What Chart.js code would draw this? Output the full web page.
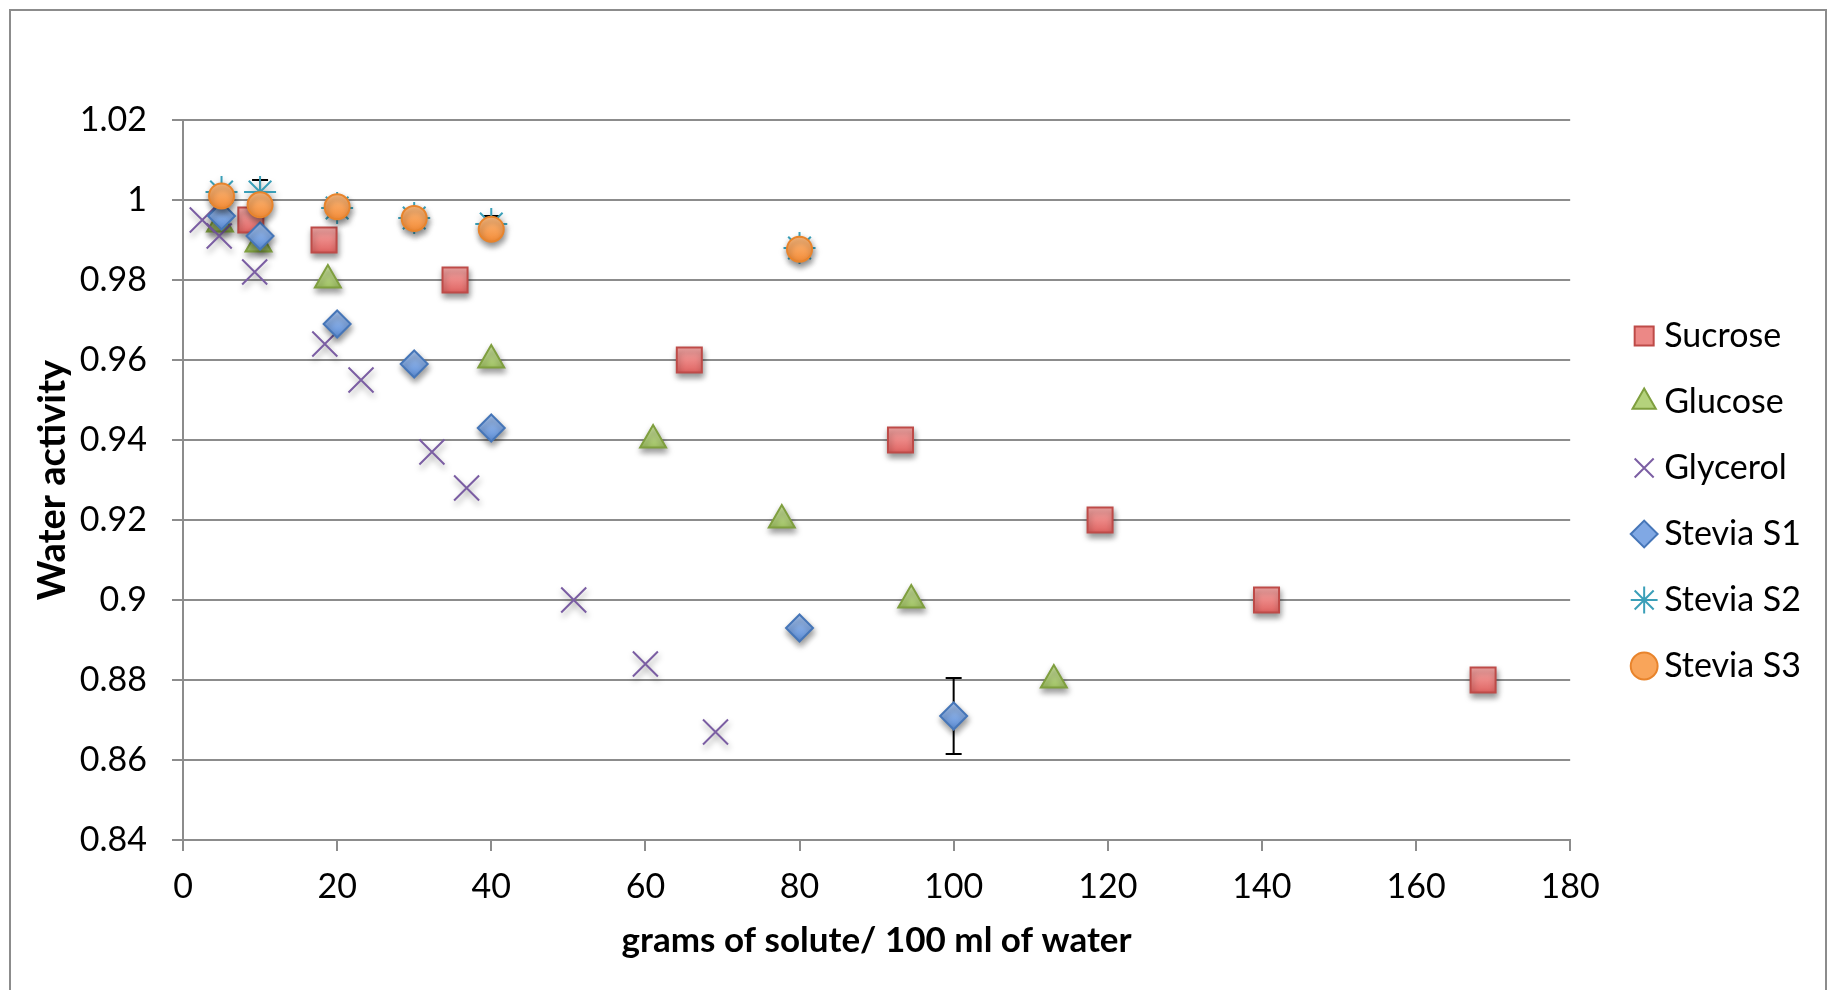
<!DOCTYPE html>
<html>
<head>
<meta charset="utf-8">
<script src="https://cdn.jsdelivr.net/npm/chart.js@4.4.1/dist/chart.umd.min.js"></script>
<style>
html,body{margin:0;padding:0;background:#fff}
#wrap{width:1836px;height:990px;position:relative}
</style>
</head>
<body>
<div id="wrap"><canvas id="waterChart" width="1836" height="990"></canvas></div>
<script>
// values
const sucroseX = [8.8, 18.3, 35.3, 65.7, 93.1, 119.0, 140.6, 168.7]
const sucroseY = [0.995, 0.990, 0.980, 0.960, 0.940, 0.920, 0.900, 0.880]

const glucoseX = [4.8, 9.8, 18.8, 40.0, 61.0, 77.7, 94.5, 113.0]
const glucoseY = [0.994, 0.989, 0.980, 0.960, 0.940, 0.920, 0.900, 0.880]

const glycerolX = [2.5, 4.7, 9.3, 18.4, 23.1, 32.3, 36.8, 50.7, 60.0, 69.1]
const glycerolY = [0.995, 0.991, 0.982, 0.964, 0.955, 0.937, 0.928, 0.900, 0.884, 0.867]

const steviaS1X = [5, 10, 20, 30, 40, 80, 100]
const steviaS1Y = [0.996, 0.991, 0.969, 0.959, 0.943, 0.893, 0.871]
const steviaS1Err = [0.001, 0.001, 0.001, 0.001, 0.001, 0.001, 0.0095]

const steviaS2X = [5, 10, 20, 30, 40, 80]
const steviaS2Y = [1.002, 1.002, 0.998, 0.9955, 0.994, 0.988]
const steviaS2Err = [0.001, 0.003, 0.001, 0.001, 0.002, 0.001]

const steviaS3X = [5, 10, 20, 30, 40, 80]
const steviaS3Y = [1.001, 0.9988, 0.9983, 0.9954, 0.9927, 0.9877]

const xTicks = [0, 20, 40, 60, 80, 100, 120, 140, 160, 180]
const yTicks = [0.84, 0.86, 0.88, 0.9, 0.92, 0.94, 0.96, 0.98, 1, 1.02]

const FONT = "Lato, 'Open Sans', sans-serif"

// legend nudge so it sits apart from the plot like the original
const LEGEND_DX = 39
const LEGEND_DY = -54

function pts(xs, ys, errs){
    return xs.map((x, i) => ({x: x, y: ys[i], err: errs ? errs[i] : 0}))
}

// top-to-bottom shading of each marker, like the office style
function shade(top, bottom, half){
    return c => {
        if(c.type !== "data" || !c.chart.scales.y) return bottom
        const y = c.chart.scales.y.getPixelForValue(c.raw.y)
        if(!Number.isFinite(y)) return bottom
        const g = c.chart.ctx.createLinearGradient(0, y - half, 0, y + half)
        g.addColorStop(0, top)
        g.addColorStop(1, bottom)
        return g
    }
}

// frame, error bars and soft marker shadows
const extras = {
    id: "extras",
    afterLayout(chart){
        const lg = chart.legend
        lg.left += LEGEND_DX; lg.right += LEGEND_DX
        lg.top += LEGEND_DY; lg.bottom += LEGEND_DY
    },
    beforeDraw(chart){
        const ctx = chart.ctx
        ctx.save()
        ctx.strokeStyle = "#8c8c8c"
        ctx.lineWidth = 2
        ctx.strokeRect(10, 10, chart.width - 20, chart.height + 20)
        ctx.restore()
    },
    beforeDatasetsDraw(chart){
        const ctx = chart.ctx
        const xs = chart.scales.x
        const ys = chart.scales.y
        ctx.save()
        ctx.strokeStyle = "#000"
        ctx.lineWidth = 2
        chart.data.datasets.forEach(ds => {
            ds.data.forEach(p => {
                if(!p.err) return
                const px = xs.getPixelForValue(p.x)
                const top = ys.getPixelForValue(p.y + p.err)
                const bot = ys.getPixelForValue(p.y - p.err)
                ctx.beginPath()
                ctx.moveTo(px, top); ctx.lineTo(px, bot)
                ctx.moveTo(px - 8, top); ctx.lineTo(px + 8, top)
                ctx.moveTo(px - 8, bot); ctx.lineTo(px + 8, bot)
                ctx.stroke()
            })
        })
        ctx.restore()
        ctx.save()
        ctx.shadowColor = "rgba(0,0,0,0.4)"
        ctx.shadowBlur = 6
        ctx.shadowOffsetX = 1
        ctx.shadowOffsetY = 4
    },
    afterDatasetsDraw(chart){
        chart.ctx.restore()
    }
}

const waterChart =
new Chart(document.getElementById("waterChart"), {

    type: "scatter",

    data: {
        datasets: [
            {
                label: "Sucrose",
                data: pts(sucroseX, sucroseY),
                pointStyle: "rect",
                pointRadius: 17.7,
                backgroundColor: shade("#f7aaa8", "#e06563", 12.5),
                legendFill: "#ec8886",
                borderColor: "#be4b48",
                borderWidth: 2,
                order: 6
            },
            {
                label: "Glucose",
                data: pts(glucoseX, glucoseY),
                pointStyle: "triangle",
                pointRadius: 15,
                backgroundColor: shade("#c8e199", "#9cbf5c", 11),
                legendFill: "#b4d27c",
                borderColor: "#7f9f3f",
                borderWidth: 2,
                order: 5
            },
            {
                label: "Glycerol",
                data: pts(glycerolX, glycerolY),
                pointStyle: "crossRot",
                pointRadius: 17.7,
                backgroundColor: "#7b5ea3",
                borderColor: "#7b5ea3",
                borderWidth: 2,
                order: 4
            },
            {
                label: "Stevia S1",
                data: pts(steviaS1X, steviaS1Y, steviaS1Err),
                pointStyle: "rectRot",
                pointRadius: 13.5,
                backgroundColor: shade("#a9c6f1", "#5e8fd8", 13.5),
                legendFill: "#80a8e4",
                borderColor: "#4676b8",
                borderWidth: 2,
                order: 3
            },
            {
                label: "Stevia S2",
                data: pts(steviaS2X, steviaS2Y, steviaS2Err),
                pointStyle: "star",
                pointRadius: 16,
                backgroundColor: "#3a9fb8",
                borderColor: "#3a9fb8",
                borderWidth: 2,
                order: 2
            },
            {
                label: "Stevia S3",
                data: pts(steviaS3X, steviaS3Y),
                pointStyle: "circle",
                pointRadius: 12.5,
                backgroundColor: shade("#fdbb7f", "#f38c38", 12.5),
                legendFill: "#f9a55a",
                borderColor: "#e8842c",
                borderWidth: 2,
                order: 1
            }
        ]
    },

    options: {
        responsive: false,
        animation: false,
        devicePixelRatio: 1,
        layout: {
            padding: {left: 10, right: 64, top: 120, bottom: 0}
        },
        plugins: {
            tooltip: {enabled: false},
            legend: {
                position: "right",
                align: "center",
                labels: {
                    usePointStyle: true,
                    boxWidth: 6,
                    boxHeight: 19,
                    padding: 32,
                    color: "#000",
                    font: {family: FONT, size: 34},
                    generateLabels: chart =>
                        Chart.defaults.plugins.legend.labels.generateLabels(chart).map(l => {
                            const ds = chart.data.datasets[l.datasetIndex]
                            if(ds.legendFill) l.fillStyle = ds.legendFill
                            return l
                        }),
                    sort: (a, b) => a.datasetIndex - b.datasetIndex
                }
            }
        },
        scales: {
            x: {
                type: "linear",
                min: 0,
                max: 180,
                afterBuildTicks: s => { s.ticks = xTicks.map(v => ({value: v})) },
                afterFit: s => { s.height = 150 },
                ticks: {
                    color: "#000",
                    padding: 16,
                    font: {family: FONT, size: 34}
                },
                grid: {
                    drawOnChartArea: false,
                    drawTicks: true,
                    tickLength: 11,
                    color: "#8c8c8c",
                    lineWidth: 2
                },
                border: {color: "#8c8c8c", width: 2},
                title: {
                    display: true,
                    text: "grams of solute/ 100 ml of water",
                    color: "#000",
                    font: {family: FONT, size: 35, weight: "bold"},
                    padding: {top: 10, bottom: 28}
                }
            },
            y: {
                type: "linear",
                min: 0.84,
                max: 1.02,
                afterBuildTicks: s => { s.ticks = yTicks.map(v => ({value: v})) },
                afterFit: s => { s.width = 173 },
                ticks: {
                    color: "#000",
                    padding: 25,
                    font: {family: FONT, size: 34},
                    callback: v => String(parseFloat(v.toFixed(2)))
                },
                grid: {
                    drawTicks: true,
                    tickLength: 11,
                    color: "#8c8c8c",
                    lineWidth: 2
                },
                border: {color: "#8c8c8c", width: 2},
                title: {
                    display: true,
                    text: "Water activity",
                    color: "#000",
                    font: {family: FONT, size: 38, weight: "bold"},
                    padding: {top: 20, bottom: 4}
                }
            }
        }
    },

    plugins: [extras]
})
</script>
</body>
</html>
